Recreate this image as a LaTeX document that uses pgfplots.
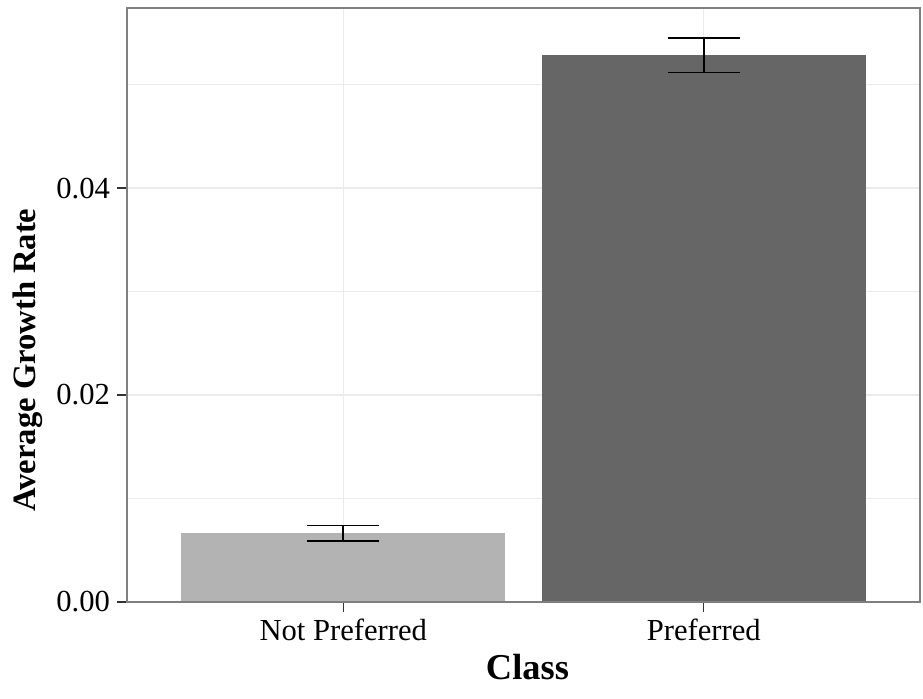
\documentclass[border=0pt]{standalone}
\usepackage{fontspec}
\setmainfont{Liberation Serif}
\usepackage{pgfplots}
\pgfplotsset{compat=1.18}
\definecolor{barlight}{RGB}{179,179,179}
\definecolor{bardark}{RGB}{102,102,102}
\definecolor{gridc}{RGB}{235,235,235}
\definecolor{framec}{RGB}{127,127,127}
\definecolor{tickc}{RGB}{51,51,51}
\begin{document}
\begin{tikzpicture}
\useasboundingbox (-63.5pt,-48pt) rectangle (398pt,301pt);
\begin{axis}[
  scale only axis, width=396.5pt, height=297pt,
  xmin=0.4, xmax=2.6, ymin=0, ymax=0.0574,
  xtick={1,2}, xticklabels={Not Preferred, Preferred},
  ytick={0,0.02,0.04}, minor ytick={0.01,0.03,0.05},
  scaled y ticks=false,
  /pgf/number format/assume math mode=true,
  yticklabel style={/pgf/number format/fixed, /pgf/number format/fixed zerofill, /pgf/number format/precision=2},
  ticklabel style={font=\fontsize{15.3}{18}\selectfont, text=black},
  tick align=outside, xtick pos=bottom, ytick pos=left,
  major tick length=5pt, minor tick length=0pt,
  tick style={tickc, line width=0.6pt},
  axis line style={framec, line width=1pt},
  xmajorgrids, ymajorgrids, yminorgrids,
  major grid style={gridc, line width=0.6pt},
  minor grid style={gridc, line width=0.35pt},
  xlabel={Class}, ylabel={Average Growth Rate},
  xlabel style={font=\fontsize{18.2}{21}\selectfont\bfseries, at={(axis description cs:0.505,-0.1313)}, anchor=base},
  ylabel style={font=\fontsize{16.3}{19}\selectfont\bfseries, at={(axis description cs:-0.116,0.4074)}, anchor=base},
]
\addplot[ybar, bar width=0.9, bar shift=0pt, fill=barlight, draw=none]
  coordinates {(1,0.00663)};
\addplot[ybar, bar width=0.9, bar shift=0pt, fill=bardark, draw=none]
  coordinates {(2,0.05285)};
\addplot[draw=none, mark=none,
  error bars/.cd, y dir=both, y explicit,
  error bar style={draw=black, line width=0.85pt},
  error mark options={draw=black, line width=0.85pt, mark size=18pt, rotate=90}]
  coordinates {(1,0.00663) +- (0,0.00076) (2,0.05285) +- (0,0.00167)};
\draw[framec, line width=1pt] (rel axis cs:0,0) rectangle (rel axis cs:1,1);
\end{axis}
\end{tikzpicture}
\end{document}
